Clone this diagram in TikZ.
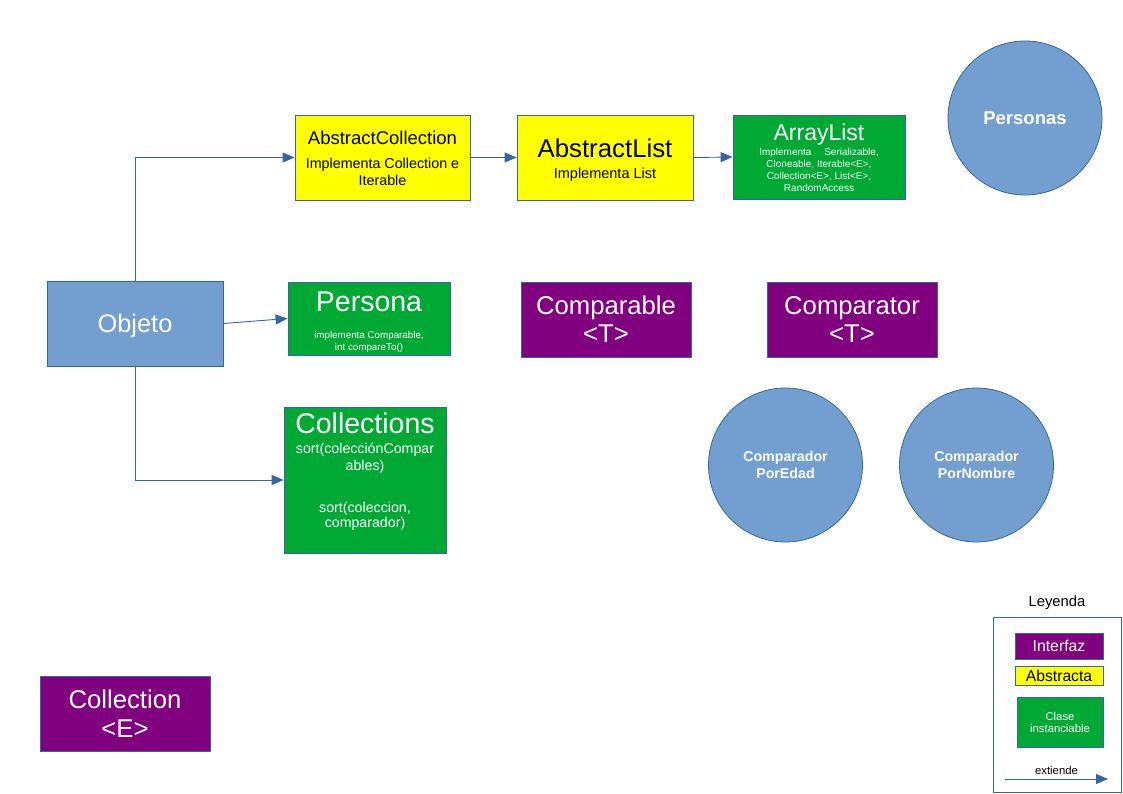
\documentclass[tikz,border=0pt]{standalone}
\usepackage{fontspec}
\setmainfont{Liberation Sans}
\usetikzlibrary{arrows.meta}
\definecolor{bluefill}{HTML}{729FCF}
\definecolor{blueline}{HTML}{3465A4}
\definecolor{greenfill}{HTML}{00A933}
\definecolor{purplefill}{HTML}{800080}
\definecolor{yellowfill}{HTML}{FFFF00}
\newcommand{\fs}[1]{\fontsize{#1}{12}\selectfont}
\tikzset{
  box/.style={draw=blueline, line width=0.8pt, inner sep=0pt, align=center},
  absbox/.style={box, fill=yellowfill, text=black},
  clsbox/.style={box, fill=greenfill, text=white},
  ifbox/.style={box, fill=purplefill, text=white},
  objbox/.style={box, fill=bluefill, text=white},
  circ/.style={circle, draw=blueline, line width=0.8pt, fill=bluefill, text=white, align=center, inner sep=0pt, minimum size=154pt, font=\bfseries},
  ext/.style={draw=blueline, line width=0.9pt, -{Triangle[length=12pt,width=10pt]}},
}
\begin{document}
\begin{tikzpicture}[x=1pt,y=-1pt]
\useasboundingbox (0,0) rectangle (1123,794);
% boxes
\node[objbox, minimum width=176pt, minimum height=85pt] (obj) at (135,323.5) {\fs{25.4}\rule{0pt}{22.5pt}Objeto};
\node[absbox, minimum width=175pt, minimum height=85pt] (ac) at (382.5,157.5) {\fs{18.5}\rule{0pt}{15pt}AbstractCollection\\[11.4pt]\fs{14.3}Implementa Collection e\\[2.8pt]\fs{14.3}Iterable};
\node[absbox, minimum width=176pt, minimum height=85pt] (al) at (605,157.5) {\fs{25.8}\rule{0pt}{23.5pt}AbstractList\\[8.9pt]\fs{14.5}Implementa List};
\node[clsbox, minimum width=172pt, minimum height=84pt] (arr) at (819,157) {\fs{23}\rule{0pt}{18pt}ArrayList\\[1.3pt]\fs{10}Implementa\quad\ Serializable,\\\fs{10}Cloneable, Iterable<E>,\\\fs{10}Collection<E>, List<E>,\\\fs{10}RandomAccess};
\node[clsbox, minimum width=162pt, minimum height=73pt] (per) at (369,318.5) {\fs{28.5}\rule{0pt}{27pt}Persona\\[14.2pt]\fs{9.8}implementa Comparable,\\\fs{9.8}int compareTo()};
\node[clsbox, minimum width=162pt, minimum height=146pt] (cols) at (365,480) {\fs{28.5}Collections\\[7.8pt]\fs{14.2}sort(colecciónCompar\\[2.7pt]\fs{14.2}ables)\\[27.7pt]\fs{14.2}sort(coleccion,\\[0.7pt]\fs{14.2}comparador)\rule[-20pt]{0pt}{0pt}};
\node[ifbox, minimum width=170pt, minimum height=75pt] (cmpb) at (606,319.5) {\fs{25.7}Comparable\\[4.2pt]\fs{25.7}<T>};
\node[ifbox, minimum width=170pt, minimum height=75pt] (cmpt) at (852,319.5) {\fs{25.7}Comparator\\[4.2pt]\fs{25.7}<T>};
\node[ifbox, minimum width=170pt, minimum height=75pt] (coll) at (125,713.5) {\fs{25.7}Collection\\[9.6pt]\fs{25.7}<E>};
% circles
\node[circ] (pers) at (1025,118) {\fs{18.5}Personas};
\node[circ] (cpe) at (785.5,465) {\fs{14.2}Comparador\\[3.5pt]\fs{14.2}PorEdad};
\node[circ] (cpn) at (976.5,465) {\fs{14.2}Comparador\\[3.5pt]\fs{14.2}PorNombre};
% connectors
\draw[ext] (obj.north) |- (ac.west);
\draw[ext] (obj.south) |- (cols.west);
\draw[ext] (obj.east) -- (per.west);
\draw[ext] (ac.east) -- (al.west);
\draw[ext] (al.east) -- (arr.west);
% legend
\node (leytitle) at (1057,603) {\fs{14.8}Leyenda};
\draw[draw=blueline, line width=0.8pt] (993,792) -- (993,617) -- (1121,617) -- (1121,792) -- cycle;
\node[ifbox, minimum width=88pt, minimum height=26pt] (lif) at (1059,646) {\fs{15.8}Interfaz};
\node[absbox, minimum width=88pt, minimum height=19pt] (labs) at (1059,675.5) {\fs{15.7}Abstracta};
\node[clsbox, minimum width=86pt, minimum height=50pt] (lcls) at (1060,722) {\fs{11.3}Clase\\\fs{11.3}instanciable};
\coordinate (la) at (1005,779);
\coordinate (lb) at (1108,779);
\draw[ext] (la) -- node[above=1pt, text=black] (lext) {\fs{11.3}extiende} (lb);
\end{tikzpicture}
\end{document}
